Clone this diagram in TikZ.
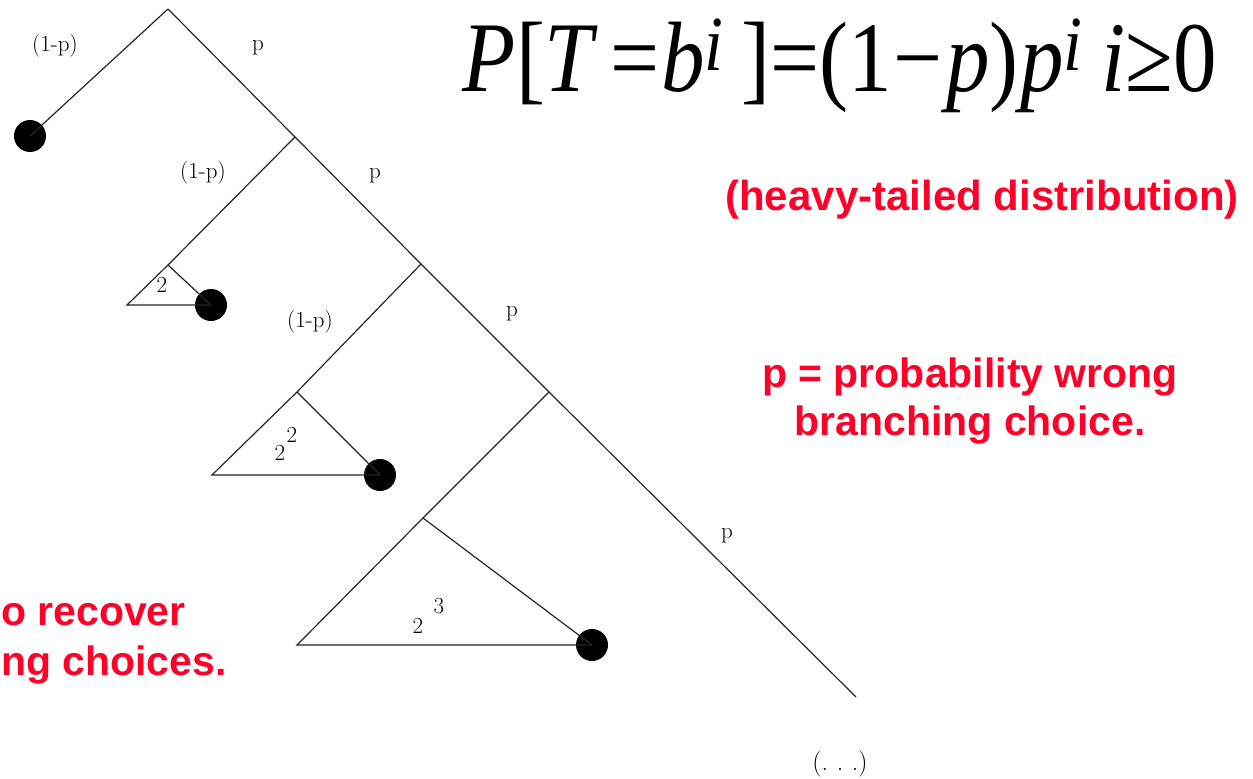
\documentclass[tikz,border=0pt]{standalone}
\usepackage{fontspec}
\setmainfont{Latin Modern Roman}
\newfontfamily\arialf{Liberation Sans}
\newfontfamily\tnrf{Liberation Serif}
\definecolor{hotred}{RGB}{255,0,40}
\newcommand\supi{\raisebox{21pt}{\fontsize{78}{78}\selectfont\itshape i}}
\begin{document}
\begin{tikzpicture}[x=1pt,y=-1pt,
  edge/.style={line width=1.2pt,draw=black!85},
  leaf/.style={circle,fill=black,minimum size=32pt,inner sep=0pt},
  lbl/.style={font=\fontsize{23}{23}\selectfont,inner sep=0pt},
  redtxt/.style={font=\arialf\bfseries\fontsize{41}{41}\selectfont,text=hotred,inner sep=0pt}]
\useasboundingbox (0,0) rectangle (1253,779);
% spine
\coordinate (A0) at (168,9);
\coordinate (A1) at (295,137);
\coordinate (A2) at (421,264);
\coordinate (A3) at (549,392);
\coordinate (E) at (856,697);
% subtrees
\coordinate (T1) at (168,265);
\coordinate (B1) at (127,305);
\coordinate (T2) at (297,392);
\coordinate (B2) at (212,475);
\coordinate (T3) at (423,518);
\coordinate (B3) at (297,645);
\node[leaf] (D0) at (30,136) {};
\node[leaf] (D1) at (211,305) {};
\node[leaf] (D2) at (380,475) {};
\node[leaf] (D3) at (592,645) {};
\draw[edge] (A0) -- (D0.center);
\draw[edge] (A0) -- (A1) -- (A2) -- (A3) -- (E);
\draw[edge] (A1) -- (T1) -- (B1) -- (D1.center);
\draw[edge] (T1) -- (D1.center);
\draw[edge] (A2) -- (T2) -- (B2) -- (D2.center);
\draw[edge] (T2) -- (D2.center);
\draw[edge] (A3) -- (T3) -- (B3) -- (D3.center);
\draw[edge] (T3) -- (D3.center);
% labels
\node[lbl] (l0) at (55,46) {(1-p)};
\node[lbl] (p0) at (258,48) {p};
\node[lbl] (l1) at (203,173) {(1-p)};
\node[lbl] (p1) at (375,176) {p};
\node[lbl] (l2) at (310,322) {(1-p)};
\node[lbl] (p2) at (512,314) {p};
\node[lbl] (p3) at (727,536) {p};
\node[lbl] (s1) at (162,285) {2};
\node[lbl] (s2) at (280,453) {2};
\node[lbl] (e2) at (292,435) {2};
\node[lbl] (s3) at (418,626) {2};
\node[lbl] (e3) at (439,606) {3};
\node[lbl,font=\fontsize{26}{26}\selectfont] (dots) at (840,764) {(.\,\,.\,\,.)};
% formula
\node[anchor=base,inner sep=0pt] (f) at (840,91) {\scalebox{0.87}[1]{\tnrf\fontsize{100}{100}\selectfont \textit{P}[\textit{T}\kern14pt=\kern2pt\textit{b}\supi\kern20pt]=(1\kern2pt−\kern4pt\textit{p})\kern2pt\textit{p}\supi\kern22pt\textit{i}≥0}};
% red texts
\node[redtxt,font=\arialf\bfseries\fontsize{42}{42}\selectfont] (h) at (982,200) {(heavy-tailed distribution)};
\node[redtxt] (q1) at (970,377) {p = probability wrong};
\node[redtxt] (q2) at (970,425) {branching choice.};
\node[redtxt,anchor=west] (r1) at (1,615) {o recover};
\node[redtxt,anchor=west] (r2) at (1,665) {ng choices.};
\end{tikzpicture}
\end{document}
